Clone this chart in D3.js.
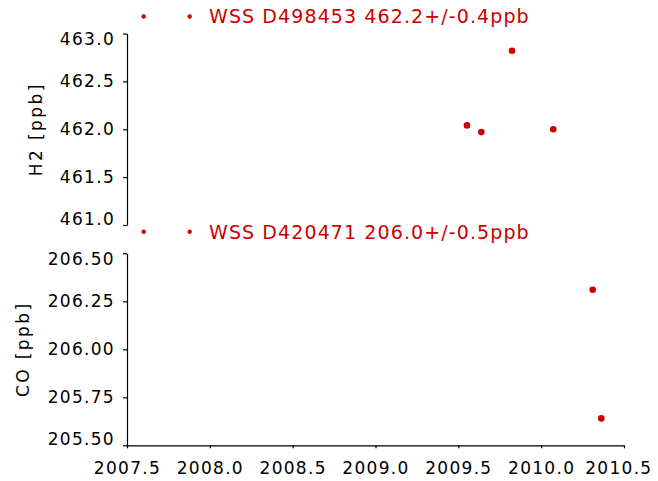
<!DOCTYPE html>
<html>
<head>
<meta charset="utf-8">
<script src="https://cdn.jsdelivr.net/npm/d3@7"></script>
<style>
  body { margin: 0; background: #fff; }
  svg { display: block; }
  .axis path, .axis line { stroke: #000; stroke-width: 1.2; }
  .axis text { font-family: "DejaVu Sans", sans-serif; font-size: 17px; letter-spacing: 1.3px; fill: #000; }
  .ylabel { font-family: "DejaVu Sans", sans-serif; font-size: 17px; letter-spacing: 2.4px; fill: #000; }
  .legend { font-family: "DejaVu Sans", sans-serif; font-size: 19px; letter-spacing: 1.1px; fill: #cc0000; }
</style>
</head>
<body>
<div class="graph-container"></div>
<script>
// Decimal year / value pairs
const h2Dates = [2009.552, 2009.639, 2009.824, 2010.073];
const h2Values = [462.04, 461.97, 462.82, 462.00];
const coDates = [2010.311, 2010.363];
const coValues = [206.31, 205.64];

const yearTicks = [2007.5, 2008.0, 2008.5, 2009.0, 2009.5, 2010.0, 2010.5];
const h2Ticks = [461.0, 461.5, 462.0, 462.5, 463.0];
const coTicks = [205.50, 205.75, 206.00, 206.25, 206.50];

const h2Legend = 'WSS D498453 462.2+/-0.4ppb';
const coLegend = 'WSS D420471 206.0+/-0.5ppb';
const h2Label = 'H2 [ppb]';
const coLabel = 'CO [ppb]';

const width = 658, height = 481;
const red = '#cc0000';

const svg = d3.select('.graph-container')
              .append('svg')
              .attr('width', width)
              .attr('height', height);

const xScale = d3.scaleLinear()
                 .domain([2007.5, 2010.5])
                 .range([127, 624]);

// one panel per gas
function drawPanel(opts) {
  const yScale = d3.scaleLinear()
                   .domain(opts.domain)
                   .range([opts.bottom, opts.top]);

  const yAxis = d3.axisLeft(yScale)
                  .tickValues(opts.ticks)
                  .tickFormat(d3.format(opts.fmt))
                  .tickSize(4)
                  .tickSizeOuter(0)
                  .tickPadding(8);

  const g = svg.append('g')
               .attr('class', 'axis y-axis')
               .attr('transform', `translate(${xScale.range()[0]},0)`)
               .call(yAxis);

  // keep end labels inside the axis extent
  const half = 6;
  g.selectAll('.tick text')
   .attr('y', d => {
     const y = yScale(d);
     if (y - half < opts.top) return opts.top - (y - half);
     if (y + half > opts.bottom) return opts.bottom - (y + half);
     return 0;
   });

  svg.append('text')
     .attr('class', 'ylabel')
     .attr('transform', `translate(${opts.labelX},${(opts.top + opts.bottom) / 2}) rotate(-90)`)
     .attr('text-anchor', 'middle')
     .text(opts.label);

  svg.append('g')
     .selectAll('circle')
     .data(opts.dates.map((d, i) => [d, opts.values[i]]))
     .join('circle')
     .attr('cx', d => xScale(d[0]))
     .attr('cy', d => yScale(d[1]))
     .attr('r', 3.3)
     .attr('fill', red);

  // legend row
  const leg = svg.append('g')
                 .attr('transform', `translate(0,${opts.legendY})`);
  leg.selectAll('circle')
     .data([143.7, 189.7])
     .join('circle')
     .attr('cx', d => d)
     .attr('cy', 0)
     .attr('r', 2.2)
     .attr('fill', red);
  leg.append('text')
     .attr('class', 'legend')
     .attr('x', 209)
     .attr('y', 6.8)
     .text(opts.legend);

  return yScale;
}

drawPanel({
  domain: [461.0, 463.0], ticks: h2Ticks, fmt: '.1f',
  top: 33.5, bottom: 225, label: h2Label, labelX: 42,
  dates: h2Dates, values: h2Values, legend: h2Legend, legendY: 16.5
});

drawPanel({
  domain: [205.5, 206.5], ticks: coTicks, fmt: '.2f',
  top: 253.3, bottom: 445.3, label: coLabel, labelX: 29,
  dates: coDates, values: coValues, legend: coLegend, legendY: 231.7
});

// shared time axis under the lower panel
const xAxis = d3.axisBottom(xScale)
                .tickValues(yearTicks)
                .tickFormat(d3.format('.1f'))
                .tickSize(3)
                .tickSizeOuter(0)
                .tickPadding(14);

const gx = svg.append('g')
              .attr('class', 'axis x-axis')
              .attr('transform', 'translate(0,445.3)')
              .call(xAxis);

gx.selectAll('.tick text')
  .attr('x', function() {
    const b = this.getBBox();
    const tx = xScale(d3.select(this.parentNode).datum());
    const right = tx + b.width / 2;
    return right > width - 6 ? (width - 6) - right : 0;
  });
</script>
</body>
</html>
